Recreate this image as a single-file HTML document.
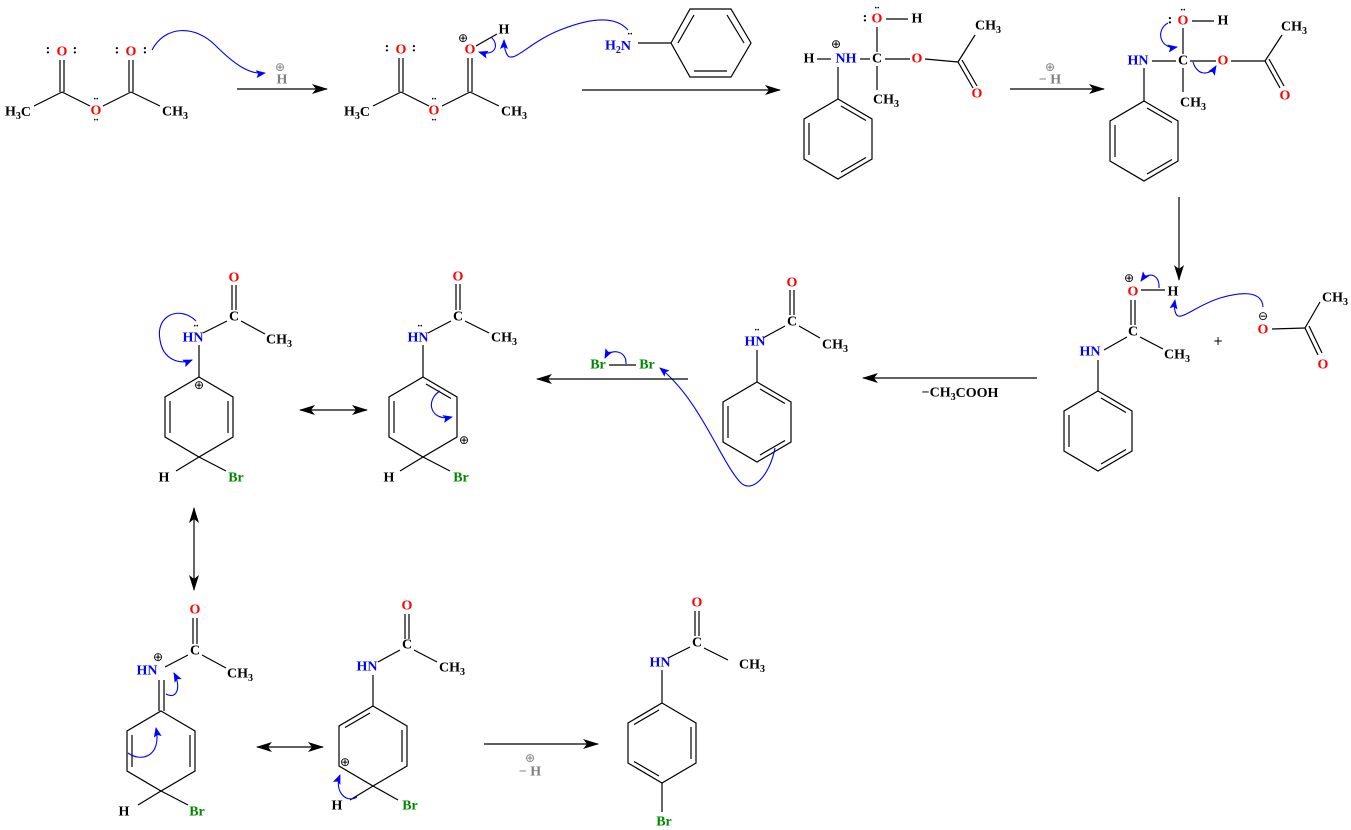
<!DOCTYPE html>
<html><head><meta charset="utf-8"><style>
html,body{margin:0;padding:0;background:#fff;}
svg{display:block;}
text{font-family:"Liberation Serif",serif;font-weight:bold;font-size:14px;text-anchor:middle;dominant-baseline:central;}
.r{fill:#f00}.b{fill:#00f}.g{fill:#080}.k{fill:#000}.gr{fill:#808080}
.s{font-size:10px}
line,polyline,polygon{stroke:#000;stroke-width:1.2;fill:none}
.bl{stroke:#00f;stroke-width:1.1;fill:none}
.dot{fill:#000}
.pl{font-family:"DejaVu Sans",sans-serif;font-weight:normal;font-size:12px}
</style></head><body>
<svg width="1351" height="830" viewBox="0 0 1351 830" xmlns="http://www.w3.org/2000/svg">
<defs>
<marker id="ah" markerWidth="16" markerHeight="10" refX="15" refY="5" orient="auto" markerUnits="userSpaceOnUse"><path d="M0,0 L16,5 L0,10 L4,5 z" fill="#000"/></marker>
<marker id="ahs" markerWidth="16" markerHeight="10" refX="1" refY="5" orient="auto" markerUnits="userSpaceOnUse"><path d="M16,0 L0,5 L16,10 L12,5 z" fill="#000"/></marker>
<marker id="ba" markerWidth="10" markerHeight="8" refX="9" refY="4" orient="auto" markerUnits="userSpaceOnUse"><path d="M0,0 L10,4 L0,8 L2,4 z" fill="#00f"/></marker>
<g id="hx"><polygon points="0,-40 34,-20 34,20 0,40 -34,20 -34,-20"/></g>
<g id="iL"><line x1="-29" y1="-16" x2="-29" y2="16"/></g>
<g id="iR"><line x1="29" y1="-16" x2="29" y2="16"/></g>
<g id="iTR"><line x1="3" y1="-33" x2="28" y2="-18.5"/></g>
<g id="iBR"><line x1="3" y1="33" x2="28" y2="18.5"/></g>
<g id="iTL"><line x1="-3" y1="-33" x2="-28" y2="-18.5"/></g>
<g id="iBL"><line x1="-3" y1="33" x2="-28" y2="18.5"/></g>
</defs>

<!-- Molecule 1 -->
<line x1="34" y1="106" x2="62" y2="92"/><line x1="62" y1="92" x2="90" y2="106"/>
<line x1="103" y1="106" x2="131" y2="92"/><line x1="131" y1="92" x2="160" y2="106"/>
<line x1="60" y1="60" x2="60" y2="92"/><line x1="64" y1="60" x2="64" y2="92"/>
<line x1="129" y1="60" x2="129" y2="92"/><line x1="133" y1="60" x2="133" y2="92"/>
<text x="62" y="52" class="r">O</text><text x="131" y="52" class="r">O</text><text x="96" y="111" class="r">O</text>
<text x="48" y="50" class="k">:</text><text x="75" y="50" class="k">:</text><text x="117" y="50" class="k">:</text><text x="145" y="50" class="k">:</text>
<text x="96" y="97" class="k s">..</text><text x="96" y="118" class="k s">..</text>
<text x="18" y="112" class="k">H<tspan class="s" dy="4">3</tspan><tspan dy="-4">C</tspan></text>
<text x="175" y="112" class="k">CH<tspan class="s" dy="4">3</tspan></text>
<path class="bl" d="M152,50 C165,25 195,25 215,45 S250,75 265,73" marker-end="url(#ba)"/>
<line x1="237" y1="89" x2="327" y2="89" marker-end="url(#ah)"/>
<text x="280" y="67" class="gr pl">⊕</text><text x="282" y="80" class="gr">H</text>

<!-- Molecule 2 -->
<line x1="373" y1="106" x2="401" y2="92"/><line x1="401" y1="92" x2="429" y2="106"/>
<line x1="442" y1="106" x2="470" y2="92"/><line x1="470" y1="92" x2="499" y2="106"/>
<line x1="399" y1="58" x2="399" y2="92"/><line x1="403" y1="58" x2="403" y2="92"/>
<line x1="468" y1="58" x2="468" y2="92"/><line x1="472" y1="58" x2="472" y2="92"/>
<line x1="476" y1="46" x2="497" y2="34"/>
<text x="401" y="50" class="r">O</text><text x="470" y="50" class="r">O</text><text x="434" y="111" class="r">O</text>
<text x="387" y="48" class="k">:</text><text x="414" y="48" class="k">:</text>
<text x="434" y="97" class="k s">..</text><text x="434" y="118" class="k s">..</text>
<text x="463" y="38" class="k pl">⊕</text><text x="504" y="30" class="k">H</text>
<text x="357" y="112" class="k">H<tspan class="s" dy="4">3</tspan><tspan dy="-4">C</tspan></text>
<text x="514" y="112" class="k">CH<tspan class="s" dy="4">3</tspan></text>
<path class="bl" d="M491,37 C500,45 495,57 479,52" marker-end="url(#ba)"/>
<path class="bl" d="M628,30 C615,15 590,18 560,30 C530,42 515,62 508,56 C505,52 504,47 504,40" marker-end="url(#ba)"/>

<!-- aniline -->
<text x="618" y="46" class="b">H<tspan class="s" dy="4">2</tspan><tspan dy="-4">N</tspan></text>
<text x="630" y="32" class="k s">..</text>
<line x1="638" y1="43" x2="671" y2="43"/>
<polygon points="671,43 690,9 731,9 751,43 731,77 690,77"/>
<line x1="678" y1="43" x2="694" y2="15"/><line x1="727" y1="15" x2="744" y2="43"/><line x1="694" y1="71" x2="727" y2="71"/>
<line x1="582" y1="90" x2="780" y2="90" marker-end="url(#ah)"/>

<!-- Molecule 3 -->
<text x="877" y="19" class="r">O</text><text x="865" y="18" class="k">:</text><text x="877" y="6" class="k s">..</text>
<line x1="886" y1="19" x2="908" y2="19"/><text x="917" y="19" class="k">H</text>
<line x1="877" y1="27" x2="877" y2="52"/>
<text x="877" y="59" class="k">C</text>
<text x="809" y="59" class="k">H</text><line x1="817" y1="59" x2="831" y2="59"/>
<text x="846" y="59" class="b">NH</text><text x="836" y="44" class="k pl">⊕</text>
<line x1="860" y1="59" x2="870" y2="59"/>
<line x1="885" y1="59" x2="910" y2="59"/><text x="917" y="59" class="r">O</text>
<line x1="925" y1="59" x2="958" y2="62"/>
<line x1="958" y1="62" x2="975" y2="35"/><text x="988" y="26" class="k">CH<tspan class="s" dy="4">3</tspan></text>
<line x1="958" y1="62" x2="973" y2="88"/><line x1="962" y1="60" x2="977" y2="86"/>
<text x="977" y="94" class="r">O</text>
<line x1="877" y1="66" x2="877" y2="90"/><text x="886" y="100" class="k">CH<tspan class="s" dy="4">3</tspan></text>
<line x1="838" y1="67" x2="838" y2="99"/>
<g transform="translate(838,139)"><use href="#hx"/><use href="#iL"/><use href="#iTR"/><use href="#iBR"/></g>

<line x1="1010" y1="89" x2="1104" y2="89" marker-end="url(#ah)"/>
<text x="1050" y="67" class="gr pl">⊕</text><text x="1050" y="80" class="gr">− H</text>

<!-- Molecule 4 -->
<text x="1138" y="61" class="b">HN</text>
<line x1="1152" y1="61" x2="1176" y2="61"/><text x="1183" y="61" class="k">C</text>
<text x="1183" y="21" class="r">O</text><text x="1170" y="20" class="k">:</text><text x="1183" y="8" class="k s">..</text>
<line x1="1192" y1="21" x2="1214" y2="21"/><text x="1223" y="21" class="k">H</text>
<line x1="1183" y1="28" x2="1183" y2="54"/>
<line x1="1190" y1="61" x2="1216" y2="61"/><text x="1223" y="61" class="r">O</text>
<line x1="1231" y1="61" x2="1265" y2="61"/>
<line x1="1265" y1="61" x2="1282" y2="35"/><text x="1294" y="27" class="k">CH<tspan class="s" dy="4">3</tspan></text>
<line x1="1265" y1="61" x2="1280" y2="88"/><line x1="1269" y1="59" x2="1284" y2="86"/>
<text x="1285" y="96" class="r">O</text>
<line x1="1183" y1="68" x2="1183" y2="92"/><text x="1193" y="103" class="k">CH<tspan class="s" dy="4">3</tspan></text>
<line x1="1144" y1="68" x2="1144" y2="101"/>
<g transform="translate(1144,141)"><use href="#hx"/><use href="#iL"/><use href="#iTR"/><use href="#iBR"/></g>
<path class="bl" d="M1168,23 C1155,30 1160,50 1177,47" marker-end="url(#ba)"/>
<path class="bl" d="M1193,62 C1197,76 1210,76 1216,66" marker-end="url(#ba)"/>

<line x1="1179" y1="197" x2="1179" y2="280" marker-end="url(#ah)"/>

<!-- Molecule 5 -->
<text x="1133" y="292" class="r">O</text><text x="1129" y="278" class="k pl">⊕</text>
<line x1="1141" y1="290" x2="1165" y2="290"/><text x="1173" y="292" class="k">H</text>
<line x1="1131" y1="300" x2="1131" y2="325"/><line x1="1135" y1="300" x2="1135" y2="325"/>
<text x="1133" y="332" class="k">C</text>
<line x1="1127" y1="337" x2="1104" y2="350"/><text x="1090" y="352" class="b">HN</text>
<line x1="1140" y1="337" x2="1163" y2="349"/><text x="1177" y="355" class="k">CH<tspan class="s" dy="4">3</tspan></text>
<line x1="1098" y1="360" x2="1098" y2="391"/>
<g transform="translate(1098,431)"><use href="#hx"/><use href="#iL"/><use href="#iTR"/><use href="#iBR"/></g>
<path class="bl" d="M1159,288 C1160,274 1148,271 1141,281" marker-end="url(#ba)"/>
<path class="bl" d="M1263,307 C1262,290 1240,292 1220,298 C1195,306 1180,322 1176,314 C1174,310 1174,306 1175,300" marker-end="url(#ba)"/>
<text x="1218" y="341" class="k pl">+</text>
<text x="1263" y="316" class="k pl">⊖</text><text x="1263" y="330" class="r">O</text>
<line x1="1272" y1="329" x2="1305" y2="328"/>
<line x1="1305" y1="328" x2="1320" y2="302"/><text x="1335" y="298" class="k">CH<tspan class="s" dy="4">3</tspan></text>
<line x1="1305" y1="328" x2="1318" y2="355"/><line x1="1309" y1="326" x2="1322" y2="353"/>
<text x="1323" y="365" class="r">O</text>

<line x1="1037" y1="378" x2="863" y2="378" marker-end="url(#ah)"/>
<text x="960" y="393" class="k">−CH<tspan class="s" dy="4">3</tspan><tspan dy="-4">COOH</tspan></text>

<!-- Molecule 6 -->
<text x="792" y="283" class="r">O</text>
<line x1="790" y1="290" x2="790" y2="315"/><line x1="794" y1="290" x2="794" y2="315"/>
<text x="792" y="322" class="k">C</text>
<line x1="785" y1="326" x2="763" y2="338"/><text x="755" y="342" class="b">HN</text><text x="757" y="328" class="k s">..</text>
<line x1="799" y1="326" x2="820" y2="338"/><text x="835" y="345" class="k">CH<tspan class="s" dy="4">3</tspan></text>
<line x1="757" y1="350" x2="757" y2="382"/>
<g transform="translate(757,422)"><use href="#hx"/><use href="#iL"/><use href="#iTR"/><use href="#iBR"/></g>
<text x="598" y="365" class="g">Br</text><text x="647" y="365" class="g">Br</text>
<line x1="609" y1="365" x2="636" y2="365"/>
<path class="bl" d="M626,364 C627,350 610,348 605,358" marker-end="url(#ba)"/>
<path class="bl" d="M775,448 C770,475 752,495 740,482 C720,460 700,400 660,368" marker-end="url(#ba)"/>
<line x1="688" y1="379" x2="537" y2="379" marker-end="url(#ah)"/>

<!-- Molecule 7 -->
<text x="234" y="278" class="r">O</text>
<line x1="232" y1="285" x2="232" y2="310"/><line x1="236" y1="285" x2="236" y2="310"/>
<text x="234" y="317" class="k">C</text>
<line x1="227" y1="321" x2="203" y2="333"/><text x="193" y="338" class="b">HN</text><text x="196" y="324" class="k s">..</text>
<line x1="241" y1="321" x2="265" y2="334"/><text x="279" y="340" class="k">CH<tspan class="s" dy="4">3</tspan></text>
<line x1="199" y1="345" x2="199" y2="377"/>
<g transform="translate(199,417)"><use href="#hx"/><use href="#iL"/><use href="#iR"/></g>
<text x="199" y="385" class="k pl">⊕</text>
<line x1="199" y1="457" x2="176" y2="471"/><line x1="199" y1="457" x2="226" y2="471"/>
<text x="164" y="478" class="k">H</text><text x="236" y="478" class="g">Br</text>
<path class="bl" d="M196,321 C180,305 155,315 160,340 C163,360 180,365 192,360" marker-end="url(#ba)"/>

<line x1="300" y1="410" x2="367" y2="410" marker-start="url(#ahs)" marker-end="url(#ah)"/>

<!-- Molecule 8 -->
<text x="458" y="277" class="r">O</text>
<line x1="456" y1="284" x2="456" y2="310"/><line x1="460" y1="284" x2="460" y2="310"/>
<text x="458" y="317" class="k">C</text>
<line x1="451" y1="321" x2="428" y2="333"/><text x="418" y="338" class="b">HN</text><text x="420" y="324" class="k s">..</text>
<line x1="465" y1="321" x2="489" y2="333"/><text x="504" y="338" class="k">CH<tspan class="s" dy="4">3</tspan></text>
<line x1="423" y1="345" x2="423" y2="377"/>
<g transform="translate(423,417)"><use href="#hx"/><use href="#iL"/><use href="#iTR"/></g>
<text x="464" y="440" class="k pl">⊕</text>
<line x1="423" y1="457" x2="400" y2="471"/><line x1="423" y1="457" x2="450" y2="471"/>
<text x="389" y="478" class="k">H</text><text x="461" y="478" class="g">Br</text>
<path class="bl" d="M440,391 C425,400 430,422 452,417" marker-end="url(#ba)"/>

<line x1="194" y1="508" x2="194" y2="590" marker-start="url(#ahs)" marker-end="url(#ah)"/>

<!-- Molecule 9 -->
<text x="195" y="610" class="r">O</text>
<line x1="193" y1="618" x2="193" y2="644"/><line x1="197" y1="618" x2="197" y2="644"/>
<text x="195" y="651" class="k">C</text>
<line x1="188" y1="655" x2="165" y2="667"/><text x="147" y="671" class="b">HN</text><text x="158" y="657" class="k pl">⊕</text>
<line x1="202" y1="655" x2="226" y2="668"/><text x="240" y="674" class="k">CH<tspan class="s" dy="4">3</tspan></text>
<line x1="159" y1="680" x2="159" y2="711"/><line x1="164" y1="680" x2="164" y2="711"/>
<g transform="translate(161,751)"><use href="#hx"/><use href="#iL"/><use href="#iR"/></g>
<line x1="161" y1="791" x2="138" y2="805"/><line x1="161" y1="791" x2="188" y2="805"/>
<text x="124" y="812" class="k">H</text><text x="197" y="812" class="g">Br</text>
<path class="bl" d="M166,694 C176,700 182,688 174,673" marker-end="url(#ba)"/>
<path class="bl" d="M128,753 C140,762 162,758 156,728" marker-end="url(#ba)"/>

<line x1="257" y1="747" x2="323" y2="747" marker-start="url(#ahs)" marker-end="url(#ah)"/>

<!-- Molecule 10 -->
<text x="407" y="606" class="r">O</text>
<line x1="405" y1="614" x2="405" y2="639"/><line x1="409" y1="614" x2="409" y2="639"/>
<text x="407" y="645" class="k">C</text>
<line x1="400" y1="650" x2="378" y2="662"/><text x="367" y="667" class="b">HN</text>
<line x1="414" y1="650" x2="437" y2="662"/><text x="452" y="668" class="k">CH<tspan class="s" dy="4">3</tspan></text>
<line x1="373" y1="675" x2="373" y2="706"/>
<g transform="translate(373,746)"><use href="#hx"/><use href="#iTL"/><use href="#iR"/></g>
<text x="345" y="762" class="k pl">⊕</text>
<line x1="373" y1="786" x2="350" y2="800"/><line x1="373" y1="786" x2="398" y2="800"/>
<text x="337" y="806" class="k">H</text><text x="410" y="806" class="g">Br</text>
<path class="bl" d="M357,797 C345,804 334,790 340,775" marker-end="url(#ba)"/>

<line x1="484" y1="744" x2="598" y2="744" marker-end="url(#ah)"/>
<text x="530" y="758" class="gr pl">⊕</text><text x="530" y="772" class="gr">− H</text>

<!-- Molecule 11 -->
<text x="697" y="603" class="r">O</text>
<line x1="695" y1="611" x2="695" y2="636"/><line x1="699" y1="611" x2="699" y2="636"/>
<text x="697" y="643" class="k">C</text>
<line x1="690" y1="647" x2="668" y2="658"/><text x="660" y="663" class="b">HN</text>
<line x1="704" y1="648" x2="728" y2="660"/><text x="752" y="665" class="k">CH<tspan class="s" dy="4">3</tspan></text>
<line x1="662" y1="670" x2="662" y2="703"/>
<g transform="translate(662,743)"><use href="#hx"/><use href="#iTL"/><use href="#iR"/><use href="#iBL"/></g>
<line x1="662" y1="783" x2="662" y2="812"/>
<text x="664" y="822" class="g">Br</text>
</svg>
</body></html>
